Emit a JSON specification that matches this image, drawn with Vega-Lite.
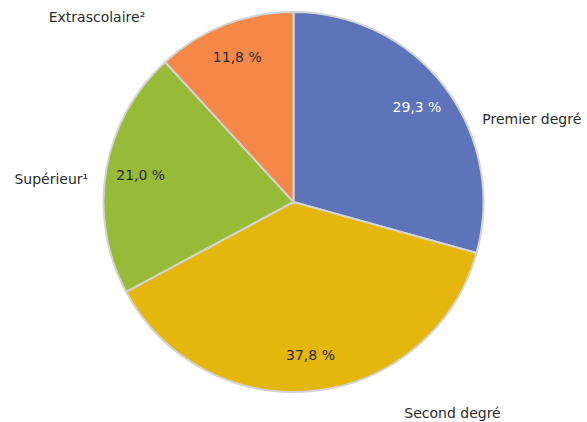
{
  "$schema": "https://vega.github.io/schema/vega-lite/v6.json",
  "width": 587,
  "height": 404,
  "autosize": {"type": "none"},
  "padding": {"top": 0, "bottom": 18, "left": 0, "right": 0},
  "background": "white",
  "config": {"view": {"stroke": null}, "text": {"font": "DejaVu Sans", "fontSize": 14}},
  "data": {
    "values": [
      {"i": 1, "cat": "Premier degré", "label": "Premier degré", "value": 29.3},
      {"i": 2, "cat": "Second degré", "label": "Second degré", "value": 37.8},
      {"i": 3, "cat": "Supérieur", "label": "Supérieur¹", "value": 21.0},
      {"i": 4, "cat": "Extrascolaire", "label": "Extrascolaire²", "value": 11.8}
    ]
  },
  "transform": [
    {"stack": "value", "groupby": [], "sort": [{"field": "i", "order": "ascending"}], "as": ["v0", "v1"]},
    {"calculate": "(datum.v0 + datum.v1) / 2", "as": "mid"},
    {"calculate": "replace(format(datum.value, '.1f'), '.', ',') + ' %'", "as": "pct"}
  ],
  "layer": [
    {
      "mark": {"type": "arc", "radius": 190, "stroke": "#d4d4d4", "strokeWidth": 2},
      "encoding": {
        "theta": {"field": "v0", "type": "quantitative", "scale": {"domain": [0, 99.9]}},
        "theta2": {"field": "v1"},
        "color": {
          "field": "cat", "type": "nominal", "legend": null,
          "scale": {
            "domain": ["Premier degré", "Second degré", "Supérieur", "Extrascolaire"],
            "range": ["#5d74bb", "#e5b60c", "#97bb37", "#f58748"]
          }
        }
      }
    },
    {
      "mark": {"type": "text", "radius": 155, "align": "center", "baseline": "middle", "fontSize": 14},
      "encoding": {
        "theta": {"field": "mid", "type": "quantitative"},
        "text": {"field": "pct"},
        "color": {"condition": {"test": "datum.cat === 'Premier degré'", "value": "white"}, "value": "#2b2b2b"}
      }
    },
    {
      "transform": [{"filter": "datum.cat === 'Premier degré'"}],
      "mark": {"type": "text", "radius": 200, "align": "center", "baseline": "middle", "dx": 79, "dy": 39, "color": "#2b2b2b"},
      "encoding": {"theta": {"field": "mid", "type": "quantitative"}, "text": {"field": "label"}}
    },
    {
      "transform": [{"filter": "datum.cat === 'Second degré'"}],
      "mark": {"type": "text", "radius": 200, "align": "center", "baseline": "middle", "dx": 137, "dy": 13, "color": "#2b2b2b"},
      "encoding": {"theta": {"field": "mid", "type": "quantitative"}, "text": {"field": "label"}}
    },
    {
      "transform": [{"filter": "datum.cat === 'Supérieur'"}],
      "mark": {"type": "text", "radius": 200, "align": "center", "baseline": "middle", "dx": -45, "dy": 11, "color": "#2b2b2b"},
      "encoding": {"theta": {"field": "mid", "type": "quantitative"}, "text": {"field": "label"}}
    },
    {
      "transform": [{"filter": "datum.cat === 'Extrascolaire'"}],
      "mark": {"type": "text", "radius": 200, "align": "center", "baseline": "middle", "dx": -124, "dy": 2, "color": "#2b2b2b"},
      "encoding": {"theta": {"field": "mid", "type": "quantitative"}, "text": {"field": "label"}}
    }
  ]
}
